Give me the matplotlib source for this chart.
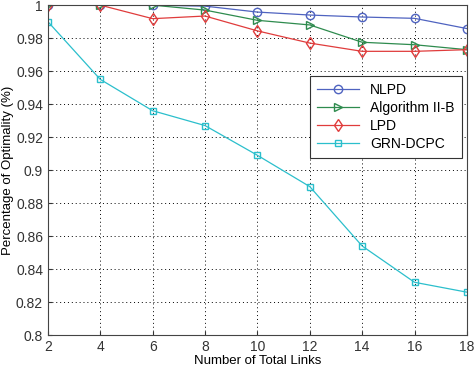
import matplotlib
matplotlib.use('Agg')
import matplotlib.pyplot as plt

plt.rcParams['font.family'] = ['Liberation Sans', 'DejaVu Sans']

links = [2, 4, 6, 8, 10, 12, 14, 16, 18]
nlpd = [1.0, 1.0, 1.0, 0.9994, 0.9958, 0.994, 0.9928, 0.992, 0.9858]
alg2b = [1.0, 1.0, 1.0, 0.997, 0.9908, 0.988, 0.9775, 0.976, 0.973]
lpd = [1.0, 1.0, 0.9918, 0.9934, 0.9844, 0.977, 0.972, 0.972, 0.973]
grn = [0.99, 0.955, 0.936, 0.927, 0.909, 0.890, 0.854, 0.832, 0.826]

yticks = [0.8, 0.82, 0.84, 0.86, 0.88, 0.9, 0.92, 0.94, 0.96, 0.98, 1.0]

fig = plt.figure(figsize=(4.74, 3.67), dpi=100)
ax = fig.add_axes([0.101, 0.087, 0.884, 0.899])

ax.plot(links, nlpd, color='#4f63c0', marker='o', mfc='none', ms=6, lw=0.9, label='NLPD')
ax.plot(links, alg2b, color='#2e8b4e', marker='>', mfc='none', ms=6, lw=0.9, label='Algorithm II-B')
ax.plot(links, lpd, color='#e03c3c', marker='d', mfc='none', ms=6, lw=0.9, label='LPD')
ax.plot(links, grn, color='#2bbfcc', marker='s', mfc='none', ms=5, lw=0.9, label='GRN-DCPC')

ax.set_xlim(2, 18)
ax.set_ylim(0.8, 1.0)
ax.set_xticks(links)
ax.set_yticks(yticks)
ax.set_yticklabels(['%g' % v for v in yticks])
ax.tick_params(labelsize=10, direction='in', length=3, colors='#333333')
for s in ax.spines.values():
    s.set_color('#444444')
ax.grid(True, color='black', linestyle=(0, (1, 3)), linewidth=0.7)

ax.set_xlabel('Number of Total Links', fontsize=9.5, labelpad=1)
ax.set_ylabel('Percentage of Optimality (%)', fontsize=9.5, labelpad=1)

leg = ax.legend(loc='upper left', bbox_to_anchor=(0.61, 0.806), fontsize=10,
                fancybox=False, edgecolor='#333333', framealpha=1,
                handlelength=3.0, borderpad=0.5, labelspacing=0.28)
leg.get_frame().set_linewidth(0.8)

fig.savefig('out.png', dpi=100)
